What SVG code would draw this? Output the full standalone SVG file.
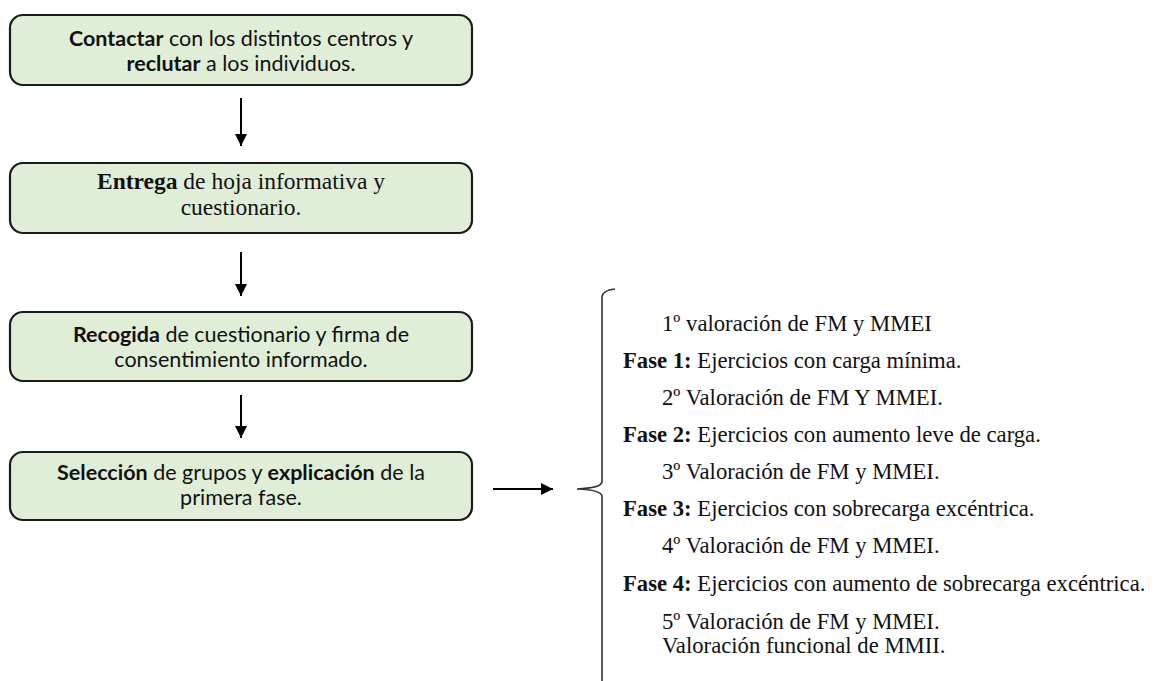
<svg xmlns="http://www.w3.org/2000/svg" width="1164" height="681" viewBox="0 0 1164 681">
  <defs>
    <marker id="ah" viewBox="0 0 12 12" refX="12" refY="6" markerWidth="12" markerHeight="12" markerUnits="userSpaceOnUse" orient="auto">
      <path d="M0,0 L12,6 L0,12 Z" fill="#000"/>
    </marker>
    <style>
      .box { fill: #e0eed8; stroke: #1b1b1b; stroke-width: 2.2; }
      .sans { font-family: Lato, "Liberation Sans", sans-serif; font-size: 21.5px; fill: #111; text-anchor: middle; }
      .tms { font-family: "Liberation Serif", "Times New Roman", serif; font-size: 23.5px; fill: #111; text-anchor: middle; }
      .list { font-family: "Liberation Serif", "Times New Roman", serif; font-size: 22.7px; fill: #111; }
      .b { font-weight: bold; }
      .conn { stroke: #000; stroke-width: 2; fill: none; }
      .brace { stroke: #333; stroke-width: 1.6; fill: none; }
    </style>
  </defs>
  <rect width="1164" height="681" fill="#fff"/>

  <g id="node1">
    <rect class="box" x="10" y="15" width="462" height="70" rx="13"/>
    <text class="sans" x="241" y="46"><tspan class="b">Contactar</tspan> con los distintos centros y</text>
    <text class="sans" x="241" y="71"><tspan class="b">reclutar</tspan> a los individuos.</text>
  </g>

  <g id="node2">
    <rect class="box" x="10" y="163" width="462" height="70" rx="13"/>
    <text class="tms" x="241" y="189"><tspan class="b">Entrega</tspan> de hoja informativa y</text>
    <text class="tms" x="241" y="215">cuestionario.</text>
  </g>

  <g id="node3">
    <rect class="box" x="10" y="312" width="462" height="69" rx="13"/>
    <text class="sans" x="241" y="342"><tspan class="b">Recogida</tspan> de cuestionario y firma de</text>
    <text class="sans" x="241" y="367">consentimiento informado.</text>
  </g>

  <g id="node4">
    <rect class="box" x="10" y="452" width="462" height="68" rx="13"/>
    <text class="sans" x="241" y="480"><tspan class="b">Selección</tspan> de grupos y <tspan class="b">explicación</tspan> de la</text>
    <text class="sans" x="241" y="505">primera fase.</text>
  </g>

  <g id="phases">
    <path class="brace" d="M615,289 Q604,290 602,296 L602,482 Q601,488 577,489 Q601,490 602,496 L602,681"/>
    <text class="list" x="662" y="331">1º valoración de FM y MMEI</text>
    <text class="list" x="623" y="368"><tspan class="b">Fase 1:</tspan> Ejercicios con carga mínima.</text>
    <text class="list" x="662" y="405">2º Valoración de FM Y MMEI.</text>
    <text class="list" x="623" y="442"><tspan class="b">Fase 2:</tspan> Ejercicios con aumento leve de carga.</text>
    <text class="list" x="662" y="479">3º Valoración de FM y MMEI.</text>
    <text class="list" x="623" y="516"><tspan class="b">Fase 3:</tspan> Ejercicios con sobrecarga excéntrica.</text>
    <text class="list" x="662" y="553">4º Valoración de FM y MMEI.</text>
    <text class="list" x="623" y="591"><tspan class="b">Fase 4:</tspan> Ejercicios con aumento de sobrecarga excéntrica.</text>
    <text class="list" x="662" y="629">5º Valoración de FM y MMEI.</text>
    <text class="list" x="662" y="653">Valoración funcional de MMII.</text>
  </g>

  <g id="connectors">
    <line class="conn" x1="241" y1="98" x2="241" y2="146" marker-end="url(#ah)"/>
    <line class="conn" x1="241" y1="252" x2="241" y2="296" marker-end="url(#ah)"/>
    <line class="conn" x1="241" y1="395" x2="241" y2="438" marker-end="url(#ah)"/>
    <line class="conn" x1="493" y1="489" x2="553" y2="489" marker-end="url(#ah)"/>
  </g>
</svg>
